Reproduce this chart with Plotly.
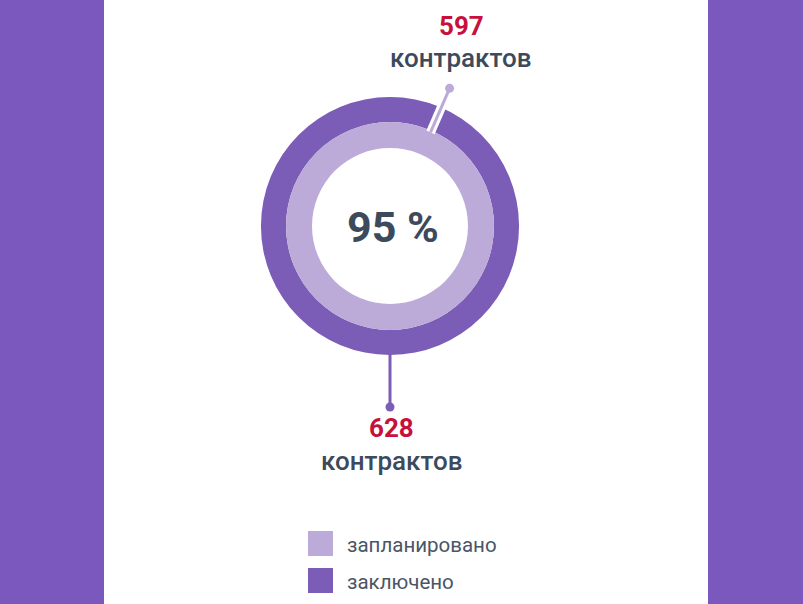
import math
import plotly.graph_objects as go

# data
labels = ["запланировано", "заключено"]
values = [597, 628]
unit = "контрактов"
colors = ["#bcaad8", "#7b5cb6"]
band_color = "#7b58be"
red = "#c8103c"
ink = "#3d4a5c"

W, H = 803, 604
cx, cy = 390, 226          # ring centre, px
r_out, r_mid, r_in = 129, 104, 78
pct = round(values[0] / values[1] * 100)


def px_dom(r):
    return dict(x=[(cx - r) / W, (cx + r) / W],
                y=[(H - cy - r) / H, (H - cy + r) / H])


def polar(r, deg):
    a = math.radians(deg)
    return cx + r * math.sin(a), cy - r * math.cos(a)


fig = go.Figure()

# outer ring: concluded
fig.add_trace(go.Pie(values=[values[1]], labels=[labels[1]], hole=r_mid / r_out,
                     domain=px_dom(r_out), sort=False, textinfo="none",
                     hoverinfo="skip", showlegend=False,
                     marker=dict(colors=[colors[1]], line=dict(width=0))))
# inner ring: planned
fig.add_trace(go.Pie(values=[values[0]], labels=[labels[0]], hole=r_in / r_mid,
                     domain=px_dom(r_mid), sort=False, textinfo="none",
                     hoverinfo="skip", showlegend=False,
                     marker=dict(colors=[colors[0]], line=dict(width=0))))

# legend squares
leg_y = [543.5, 580.5]
fig.add_trace(go.Scatter(x=[320.5, 320.5], y=leg_y, mode="markers",
                         marker=dict(symbol="square", size=25, color=colors,
                                     line=dict(width=0)),
                         hoverinfo="skip", showlegend=False))

shapes = [
    dict(type="rect", xref="paper", yref="paper", x0=0, x1=104 / W, y0=0, y1=1,
         fillcolor=band_color, line_width=0, layer="below"),
    dict(type="rect", xref="paper", yref="paper", x0=708 / W, x1=1, y0=0, y1=1,
         fillcolor=band_color, line_width=0, layer="below"),
]

# top leader (planned)
ang = 23.4
x0, y0 = polar(r_mid - 2, ang)
x1, y1 = polar(r_out + 12, ang)
x2, y2 = polar(150, ang)
shapes.append(dict(type="line", xref="x", yref="y", x0=x0, y0=y0, x1=x1, y1=y1,
                   line=dict(color="white", width=9), layer="above"))
shapes.append(dict(type="line", xref="x", yref="y", x0=x0, y0=y0, x1=x2, y1=y2,
                   line=dict(color=colors[0], width=3), layer="above"))
shapes.append(dict(type="circle", xref="x", yref="y", x0=x2 - 4.5, x1=x2 + 4.5,
                   y0=y2 - 4.5, y1=y2 + 4.5, fillcolor=colors[0], line_width=0,
                   layer="above"))

# bottom leader (concluded)
bx0, by0 = polar(r_out - 1, 180)
bx1, by1 = polar(181, 180)
shapes.append(dict(type="line", xref="x", yref="y", x0=bx0, y0=by0, x1=bx1, y1=by1,
                   line=dict(color=colors[1], width=3), layer="above"))
shapes.append(dict(type="circle", xref="x", yref="y", x0=bx1 - 4.5, x1=bx1 + 4.5,
                   y0=by1 - 4.5, y1=by1 + 4.5, fillcolor=colors[1], line_width=0,
                   layer="above"))

ann = []


def txt(x, y, s, size, color, weight=400, xanchor="center"):
    ann.append(dict(x=x, y=y, xref="x", yref="y", text=str(s),
                    showarrow=False, xanchor=xanchor, yanchor="middle",
                    font=dict(family="Roboto", size=size, color=color, weight=weight)))


txt(461, 26, values[0], 26, red, weight=700)
txt(460, 58, unit, 26, ink, weight=500)
txt(391, 428, values[1], 26, red, weight=700)
txt(391, 461, unit, 26, ink, weight=500)
txt(393, 227, f"{pct} %", 43, ink, weight=700)
for lab, yy in zip(labels, leg_y):
    txt(345, yy + 1, lab, 20.5, "#4a5565", xanchor="left")

fig.update_layout(
    width=W, height=H, margin=dict(l=0, r=0, t=0, b=0),
    paper_bgcolor="white", plot_bgcolor="rgba(0,0,0,0)",
    xaxis=dict(range=[0, W], visible=False, fixedrange=True, domain=[0, 1]),
    yaxis=dict(range=[H, 0], visible=False, fixedrange=True, domain=[0, 1]),
    shapes=shapes, annotations=ann, showlegend=False,
)

fig.write_html("out.html", config={"displayModeBar": False},
               post_script="document.body.style.margin='0';")
